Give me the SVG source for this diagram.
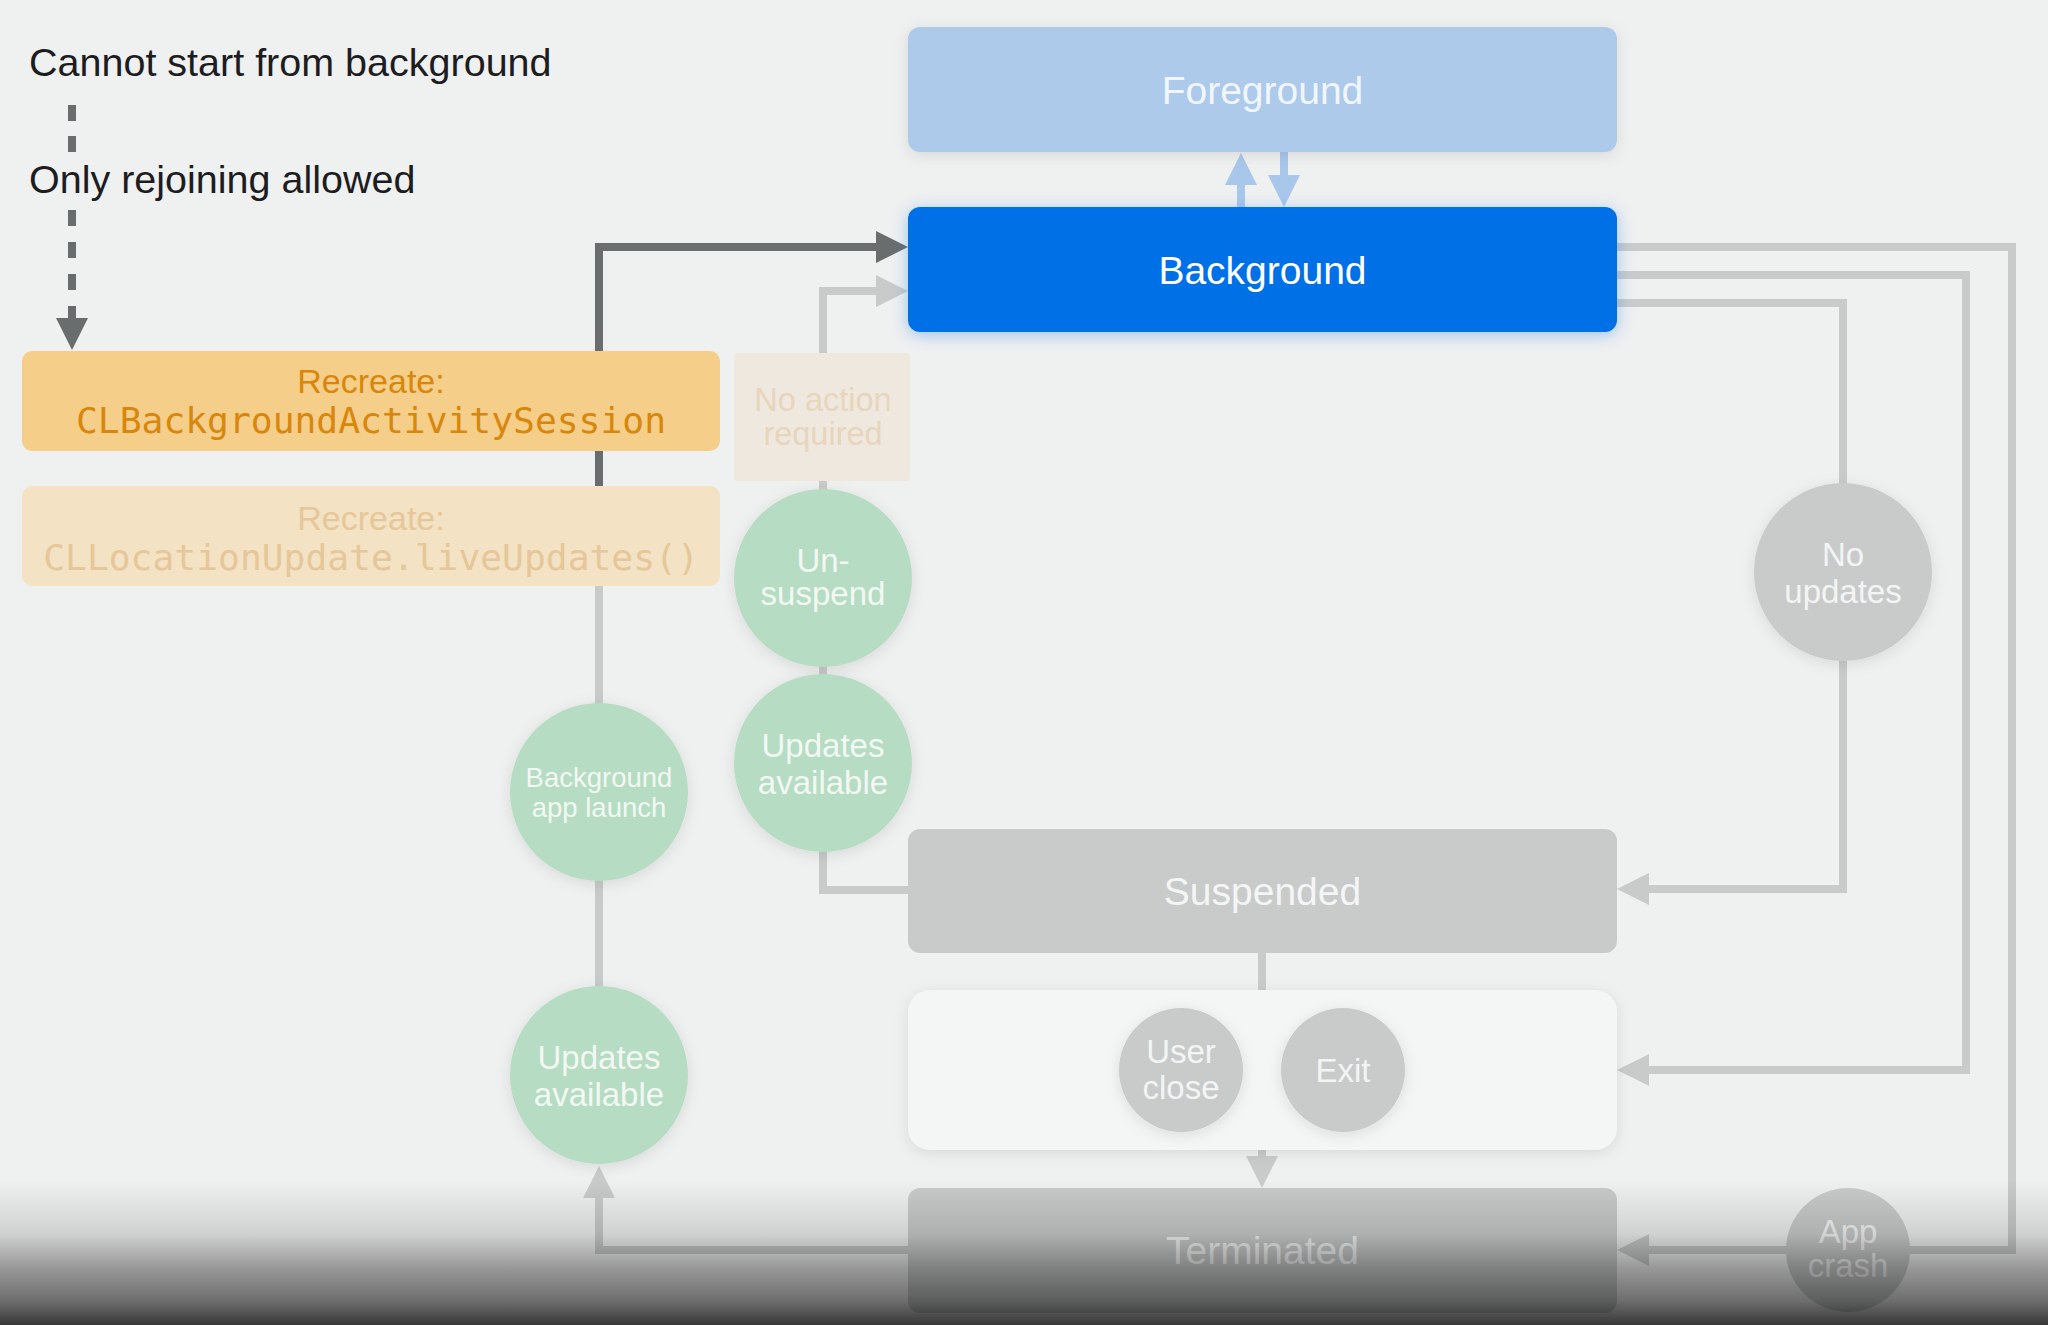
<svg xmlns="http://www.w3.org/2000/svg" width="2048" height="1325" viewBox="0 0 2048 1325">
<style>
  .sans{font-family:"Liberation Sans",Arial,sans-serif}
  .mono{font-family:"DejaVu Sans Mono","Liberation Mono",monospace}
  .lbl{font-size:39.5px;fill:#1d1d1f}
  .state{font-size:39px;text-anchor:middle}
  .circ{font-size:33px;text-anchor:middle}
  .green{fill:#b6dcc3}
  .greentxt{fill:#f2f8f3}
  .grayn{fill:#c9cbcb}
  .graytxt{fill:#f3f4f4}
  .conn{fill:none;stroke-width:8}
  .c-gray{stroke:#c9cbcb}
  .c-dark{stroke:#6a6d6e}
  .c-blue{stroke:#a9c7ea}
</style>
<defs>
  <marker id="ah-gray" viewBox="0 0 32 32" refX="0" refY="16" markerWidth="32" markerHeight="32" markerUnits="userSpaceOnUse" orient="auto"><path d="M0,0 L32,16 L0,32 z" fill="#c9cbcb"/></marker>
  <marker id="ah-dark" viewBox="0 0 32 32" refX="0" refY="16" markerWidth="32" markerHeight="32" markerUnits="userSpaceOnUse" orient="auto"><path d="M0,0 L32,16 L0,32 z" fill="#6a6d6e"/></marker>
  <marker id="ah-blue" viewBox="0 0 32 32" refX="0" refY="16" markerWidth="32" markerHeight="32" markerUnits="userSpaceOnUse" orient="auto"><path d="M0,0 L32,16 L0,32 z" fill="#a9c7ea"/></marker>
  <filter id="sh" x="-20%" y="-20%" width="140%" height="140%"><feDropShadow dx="0" dy="3" stdDeviation="7" flood-color="#000" flood-opacity="0.10"/></filter>
  <filter id="shb" x="-20%" y="-30%" width="140%" height="160%"><feDropShadow dx="0" dy="3" stdDeviation="8" flood-color="#0070e6" flood-opacity="0.35"/></filter>
  <linearGradient id="vig" x1="0" y1="1180" x2="0" y2="1325" gradientUnits="userSpaceOnUse">
    <stop offset="0" stop-color="#000" stop-opacity="0"/>
    <stop offset="0.37" stop-color="#000" stop-opacity="0.13"/>
    <stop offset="0.6" stop-color="#000" stop-opacity="0.36"/>
    <stop offset="0.83" stop-color="#000" stop-opacity="0.54"/>
    <stop offset="1" stop-color="#000" stop-opacity="0.77"/>
  </linearGradient>
</defs>
<rect x="0" y="0" width="2048" height="1325" fill="#eff0f0"/>

<g id="connectors">
  <path class="conn c-dark" d="M72,105 V153" stroke-dasharray="16 15"/>
  <path class="conn c-dark" d="M72,210 V318" stroke-dasharray="16 16" marker-end="url(#ah-dark)"/>
  <path class="conn c-dark" d="M599,487 V247 H876" marker-end="url(#ah-dark)"/>
  <path class="conn c-gray" d="M599,585 V986"/>
  <path class="conn c-gray" d="M908,1250 H599 V1198" marker-end="url(#ah-gray)"/>
  <path class="conn c-gray" d="M908,890 H823 V291 H876" marker-end="url(#ah-gray)"/>
  <path class="conn c-gray" d="M1617,247 H2012 V1250 H1649" marker-end="url(#ah-gray)"/>
  <path class="conn c-gray" d="M1617,275 H1966 V1070 H1649" marker-end="url(#ah-gray)"/>
  <path class="conn c-gray" d="M1617,303 H1843 V889 H1649" marker-end="url(#ah-gray)"/>
  <path class="conn c-gray" d="M1262,953 V990"/>
  <path class="conn c-gray" d="M1262,1150 V1156" marker-end="url(#ah-gray)"/>
  <path class="conn c-blue" d="M1241,207 V185" marker-end="url(#ah-blue)"/>
  <path class="conn c-blue" d="M1284,152 V175" marker-end="url(#ah-blue)"/>
</g>

<g id="label-cannot-start">
  <text class="sans lbl" x="29" y="76">Cannot start from background</text>
</g>
<g id="label-only-rejoining">
  <text class="sans lbl" x="29" y="193">Only rejoining allowed</text>
</g>

<g id="node-foreground">
  <rect x="908" y="27" width="709" height="125" rx="12" fill="#adcaeb" filter="url(#sh)"/>
  <text class="sans state" x="1262.5" y="103.5" fill="#f1f6fc">Foreground</text>
</g>
<g id="node-background">
  <rect x="908" y="207" width="709" height="125" rx="12" fill="#006fe6" filter="url(#shb)"/>
  <text class="sans state" x="1262.5" y="283.5" fill="#ffffff">Background</text>
</g>

<g id="node-recreate-session">
  <rect x="22" y="351" width="698" height="100" rx="10" fill="#f5cf89"/>
  <text class="sans" x="371" y="393" font-size="34" text-anchor="middle" fill="#d8860c">Recreate:</text>
  <text class="mono" x="371" y="433" font-size="36.3" text-anchor="middle" fill="#d8860c">CLBackgroundActivitySession</text>
</g>
<g id="node-recreate-liveupdates">
  <rect x="22" y="486" width="698" height="100" rx="10" fill="#f3e2c4"/>
  <text class="sans" x="371" y="530" font-size="34" text-anchor="middle" fill="#e6c799">Recreate:</text>
  <text class="mono" x="371" y="570" font-size="36.3" text-anchor="middle" fill="#e6c799">CLLocationUpdate.liveUpdates()</text>
</g>

<g id="node-no-action">
  <rect x="734" y="353" width="176" height="128" rx="4" fill="#efe8df"/>
  <text class="sans" x="823" y="411" font-size="32.5" text-anchor="middle" fill="#e7d5bc">No action</text>
  <text class="sans" x="823" y="445" font-size="32.5" text-anchor="middle" fill="#e7d5bc">required</text>
</g>

<g id="node-unsuspend">
  <circle class="green" cx="823" cy="578" r="89" filter="url(#sh)"/>
  <text class="sans circ greentxt" x="823" y="572">Un-</text>
  <text class="sans circ greentxt" x="823" y="605">suspend</text>
</g>
<g id="node-updates-available-right">
  <circle class="green" cx="823" cy="763" r="89" filter="url(#sh)"/>
  <text class="sans circ greentxt" x="823" y="757">Updates</text>
  <text class="sans circ greentxt" x="823" y="794">available</text>
</g>
<g id="node-bg-app-launch">
  <circle class="green" cx="599" cy="792" r="89" filter="url(#sh)"/>
  <text class="sans greentxt" x="599" y="787" font-size="27.5" text-anchor="middle">Background</text>
  <text class="sans greentxt" x="599" y="817" font-size="27.5" text-anchor="middle">app launch</text>
</g>
<g id="node-updates-available-left">
  <circle class="green" cx="599" cy="1075" r="89" filter="url(#sh)"/>
  <text class="sans circ greentxt" x="599" y="1069">Updates</text>
  <text class="sans circ greentxt" x="599" y="1106">available</text>
</g>

<g id="node-no-updates">
  <circle class="grayn" cx="1843" cy="572" r="89" filter="url(#sh)"/>
  <text class="sans circ graytxt" x="1843" y="566">No</text>
  <text class="sans circ graytxt" x="1843" y="603">updates</text>
</g>

<g id="node-suspended">
  <rect x="908" y="829" width="709" height="124" rx="12" fill="#c9cbcb"/>
  <text class="sans state" x="1262.5" y="905" fill="#f4f5f5">Suspended</text>
</g>

<g id="node-exit-group">
  <rect x="908" y="990" width="709" height="160" rx="22" fill="#f4f5f5" filter="url(#sh)"/>
</g>
<g id="node-user-close">
  <circle class="grayn" cx="1181" cy="1070" r="62" filter="url(#sh)"/>
  <text class="sans circ graytxt" x="1181" y="1063">User</text>
  <text class="sans circ graytxt" x="1181" y="1099">close</text>
</g>
<g id="node-exit">
  <circle class="grayn" cx="1343" cy="1070" r="62" filter="url(#sh)"/>
  <text class="sans circ graytxt" x="1343" y="1082">Exit</text>
</g>

<g id="node-terminated">
  <rect x="908" y="1188" width="709" height="125" rx="12" fill="#c9cbcb"/>
  <text class="sans state" x="1262.5" y="1264" fill="#f4f5f5">Terminated</text>
</g>
<g id="node-app-crash">
  <circle class="grayn" cx="1848" cy="1250" r="62"/>
  <text class="sans circ graytxt" x="1848" y="1243">App</text>
  <text class="sans circ graytxt" x="1848" y="1277">crash</text>
</g>

<rect x="0" y="1180" width="2048" height="145" fill="url(#vig)"/>
</svg>
